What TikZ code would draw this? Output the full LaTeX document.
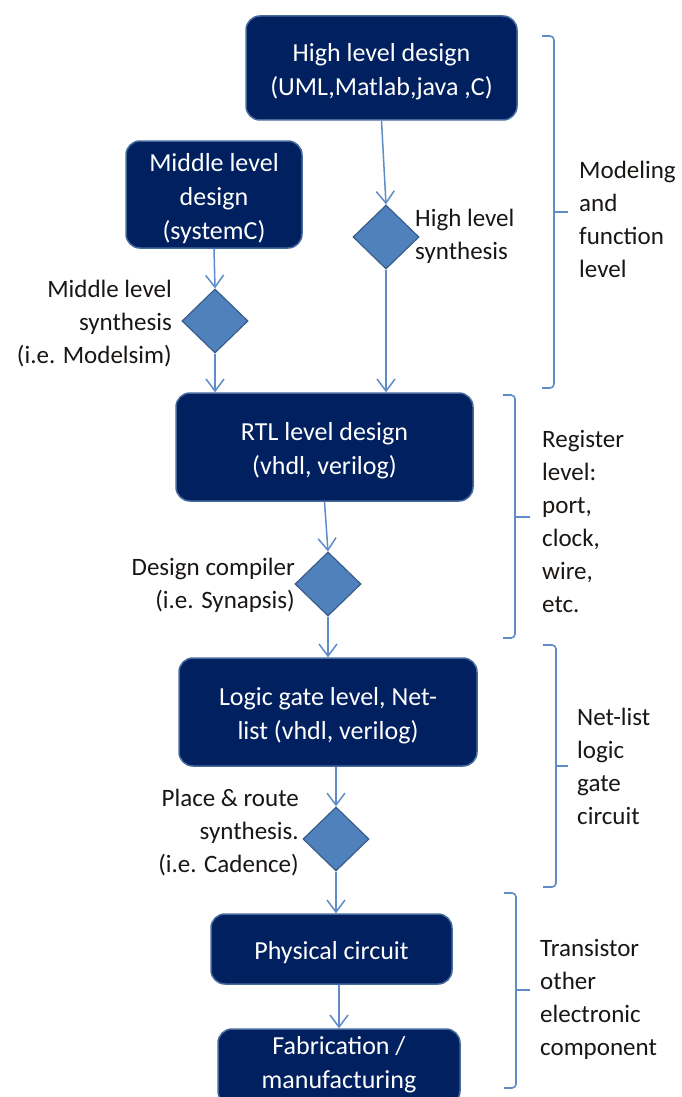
\documentclass[tikz,border=0pt]{standalone}
\usepackage{fontspec}
\setmainfont{Carlito}
\usetikzlibrary{shapes.geometric,arrows.meta}
\definecolor{navy}{RGB}{0,32,96}
\definecolor{boxedge}{RGB}{70,105,155}
\definecolor{dfill}{RGB}{79,129,189}
\definecolor{dedge}{RGB}{56,93,138}
\definecolor{lnk}{RGB}{95,140,200}
\definecolor{txt}{RGB}{25,22,20}
\tikzset{
  boxnode/.style={draw=boxedge, line width=1.5pt, fill=navy, rounded corners=14pt, inner sep=0pt},
  boxtext/.style={text=white, align=center, inner sep=0pt, font=\fontsize{26}{34}\selectfont},
  decide/.style={diamond, draw=dedge, line width=1.2pt, fill=dfill, inner sep=0pt,
    minimum width=66pt, minimum height=64pt},
  lbl/.style={text=txt, inner sep=0pt, font=\fontsize{25}{33}\selectfont},
  flow/.style={draw=lnk, line width=1.5pt, -{Straight Barb[length=12pt,width=18pt,line width=1.5pt]}},
  brace/.style={draw=lnk, line width=1.6pt, rounded corners=4pt}
}
\begin{document}
\begin{tikzpicture}[x=1pt,y=-1pt]
\useasboundingbox (0,0) rectangle (682,1097);
\clip (0,0) rectangle (682,1097);
\fill[white] (0,0) rectangle (682,1097);
% boxes
\node[boxnode, minimum width=271pt, minimum height=104pt] (hld) at (381.5,68) {};
\node[boxtext] (hldt) at (381.5,72) {High level design\\(UML,Matlab,java ,C)};
\node[boxnode, minimum width=176pt, minimum height=107pt] (mld) at (214,194.5) {};
\node[boxtext] (mldt) at (214,198.5) {Middle level\\design\\(systemC)};
\node[boxnode, minimum width=297pt, minimum height=108pt] (rtl) at (324.5,447) {};
\node[boxtext] (rtlt) at (324.5,451) {RTL level design\\(vhdl, verilog)};
\node[boxnode, minimum width=298pt, minimum height=108pt] (lgl) at (328,712) {};
\node[boxtext] (lglt) at (328,716) {Logic gate level, Net-\\list (vhdl, verilog)};
\node[boxnode, minimum width=241pt, minimum height=70pt] (phy) at (331.5,949) {};
\node[boxtext] (phyt) at (331.5,953) {Physical circuit};
\node[boxnode, minimum width=242pt, minimum height=76pt] (fab) at (339,1067) {};
\node[boxtext] (fabt) at (339,1065) {Fabrication /\\manufacturing};
% diamonds
\node[decide] (hls) at (386,237) {};
\node[decide] (mls) at (215,321) {};
\node[decide] (dc) at (328,584) {};
\node[decide] (pr) at (336,839) {};
% diamond labels
\node[lbl, anchor=west, align=left] (hlsl) at (415,236) {High level\\synthesis};
\node[lbl, anchor=east, align=right] (mlsl) at (172,324) {Middle level\\synthesis\\(i.e. Modelsim)};
\node[lbl, anchor=east, align=right] (dcl) at (295,585) {Design compiler\\(i.e. Synapsis)};
\node[lbl, anchor=east, align=right] (prl) at (299,833) {Place \& route\\synthesis.\\(i.e. Cadence)};
% connectors
\draw[flow] (hld.south) -- (hls.north);
\draw[flow] (hls.south) -- (hls.south |- rtl.north);
\draw[flow] (mld.south) -- (mls.north);
\draw[flow] (mls.south) -- (mls.south |- rtl.north);
\draw[flow] (rtl.south) -- (dc.north);
\draw[flow] (dc.south) -- (dc.south |- lgl.north);
\draw[flow] (pr.north |- lgl.south) -- (pr.north);
\draw[flow] (pr.south) -- (pr.south |- phy.north);
\draw[flow] (fab.north |- phy.south) -- (fab.north);
% braces
\coordinate (b1) at (568,212);
\draw[brace] (542,36) -- (554,36) -- (554,388) -- (542,388);
\draw[brace] (554,212) -- (b1);
\node[lbl, anchor=west, align=left] (t1) at (579,219) {Modeling\\and\\function\\level};
\coordinate (b2) at (530,517);
\draw[brace] (503,395) -- (515,395) -- (515,638) -- (503,638);
\draw[brace] (515,517) -- (b2);
\node[lbl, anchor=west, align=left] (t2) at (542,521) {Register\\level:\\port,\\clock,\\wire,\\etc.};
\coordinate (b3) at (568,766);
\draw[brace] (543,645) -- (556,645) -- (556,887) -- (543,887);
\draw[brace] (556,766) -- (b3);
\node[lbl, anchor=west, align=left] (t3) at (577,766.5) {Net-list\\logic\\gate\\circuit};
\coordinate (b4) at (530,990);
\draw[brace] (504,893) -- (516,893) -- (516,1088) -- (504,1088);
\draw[brace] (516,990) -- (b4);
\node[lbl, anchor=west, align=left] (t4) at (540,999) {Transistor\\other\\electronic\\component};
\end{tikzpicture}
\end{document}
